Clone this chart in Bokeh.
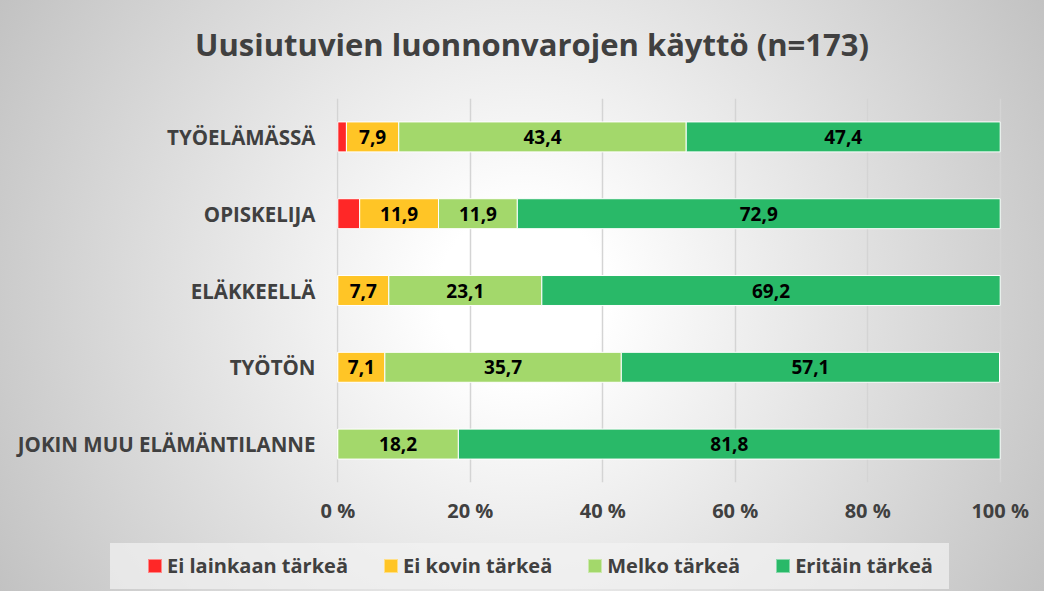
from bokeh.plotting import figure
from bokeh.layouts import column
from bokeh.models import (FactorRange, Range1d, FixedTicker, ColumnDataSource,
                          InlineStyleSheet, Div)
from bokeh.core.properties import value
from bokeh.embed import file_html
from bokeh.resources import INLINE

# ---------------- data ----------------
categories = ["TYÖELÄMÄSSÄ", "OPISKELIJA", "ELÄKKEELLÄ", "TYÖTÖN",
              "JOKIN MUU ELÄMÄNTILANNE"]
series_names = ["Ei lainkaan tärkeä", "Ei kovin tärkeä", "Melko tärkeä", "Eritäin tärkeä"]
ei_lainkaan = [1.3, 3.3, 0.0, 0.0, 0.0]
ei_kovin = [7.9, 11.9, 7.7, 7.1, 0.0]
melko = [43.4, 11.9, 23.1, 35.7, 18.2]
eritain = [47.4, 72.9, 69.2, 57.1, 81.8]
x_ticks = [0, 20, 40, 60, 80, 100]
x_tick_labels = ["0 %", "20 %", "40 %", "60 %", "80 %", "100 %"]
title_text = "Uusiutuvien luonnonvarojen käyttö (n=173)"

colors = ["#FF2727", "#FFC526", "#A3D86B", "#29B968"]
FONT = "Open Sans"
TXT = "#404040"

keys = ["s0", "s1", "s2", "s3"]
series = [ei_lainkaan, ei_kovin, melko, eritain]
src = ColumnDataSource(dict(cat=categories, **{k: v for k, v in zip(keys, series)}))

W = 1044
H_TITLE, H_MAIN, H_LEG = 70, 470, 51

# ---------------- title strip (HTML) ----------------
title_html = (
    f'<div style="width:1064px;margin-top:24px;height:40px;line-height:40px;text-align:center;'
    f"font-family:'{FONT}';font-weight:bold;font-size:31px;color:{TXT};white-space:nowrap;\">"
    f'{title_text}</div>'
)
title_div = Div(text=title_html, width=W, height=H_TITLE, margin=0)

# ---------------- main chart ----------------
p = figure(width=W, height=H_MAIN, output_backend="svg", toolbar_location=None,
           y_range=FactorRange(*categories[::-1]), x_range=Range1d(-0.2, 100.2),
           min_border_left=336, min_border_right=43, min_border_top=28,
           min_border_bottom=58)
p.background_fill_alpha = 0
p.border_fill_alpha = 0
p.outline_line_color = None

renderers = p.hbar_stack(keys, y="cat", height=0.39, color=colors, source=src,
                         line_color="white", line_width=1)

# data labels (skip first series and zero values)
lx, ly, lt = [], [], []
for i, cat in enumerate(categories):
    left = 0.0
    for j, s in enumerate(series):
        v = s[i]
        if j > 0 and v > 0:
            lx.append(left + v / 2)
            ly.append(cat)
            lt.append(f"{v:.1f}".replace(".", ","))
        left += v
p.text(x=lx, y=ly, text=lt, text_align="center", text_baseline="middle",
       text_font=value(FONT), text_font_style="bold", text_font_size="19px",
       text_color="black")

# grid / axes
p.xgrid.ticker = FixedTicker(ticks=x_ticks)
p.xgrid.grid_line_color = "#d4d4d4"
p.xgrid.grid_line_width = 1.5
p.ygrid.grid_line_color = None

p.xaxis.ticker = FixedTicker(ticks=x_ticks)
p.xaxis.major_label_overrides = {t: l for t, l in zip(x_ticks, x_tick_labels)}
p.xaxis.axis_line_color = None
p.xaxis.major_tick_line_color = None
p.xaxis.minor_tick_line_color = None
p.xaxis.major_tick_out = 0
p.xaxis.major_tick_in = 0
p.xaxis.major_label_standoff = 14
p.xaxis.major_label_text_font = FONT
p.xaxis.major_label_text_font_style = "bold"
p.xaxis.major_label_text_font_size = "20px"
p.xaxis.major_label_text_color = TXT

p.yaxis.axis_line_color = None
p.yaxis.major_tick_line_color = None
p.yaxis.major_tick_out = 0
p.yaxis.major_tick_in = 0
p.yaxis.major_label_standoff = 21
p.yaxis.major_label_text_font = FONT
p.yaxis.major_label_text_font_style = "bold"
p.yaxis.major_label_text_font_size = "20.5px"
p.yaxis.major_label_text_color = TXT

# ---------------- legend strip (HTML) ----------------
items_html = ""
for k, (name, col) in enumerate(zip(series_names, colors)):
    ml = 38 if k == 0 else 36
    items_html += (
        f'<span style="display:inline-block;width:14px;height:14px;background:{col};'
        f'box-shadow:inset 0 0 0 1px rgba(255,255,255,0.45);margin-left:{ml}px;margin-right:5px;"></span>'
        f'<span>{name}</span>'
    )
leg_html = (
    '<div style="margin-left:110px;margin-top:3px;width:839px;height:46px;'
    'background:rgba(242,242,242,0.7);display:flex;align-items:center;'
    f"font-family:'{FONT}';font-weight:bold;font-size:20px;color:{TXT};"
    'white-space:nowrap;line-height:1;">' + items_html + '</div>'
)
legend_div = Div(text=leg_html, width=W, height=H_LEG, margin=0)

layout = column(title_div, p, legend_div, spacing=0)
layout.stylesheets = [InlineStyleSheet(css=":host { background: radial-gradient(circle at 50% 50%, #ffffff 0%, #ffffff 14%, #c2c2c2 100%); }")]

open("out.html", "w").write(file_html(layout, INLINE))
